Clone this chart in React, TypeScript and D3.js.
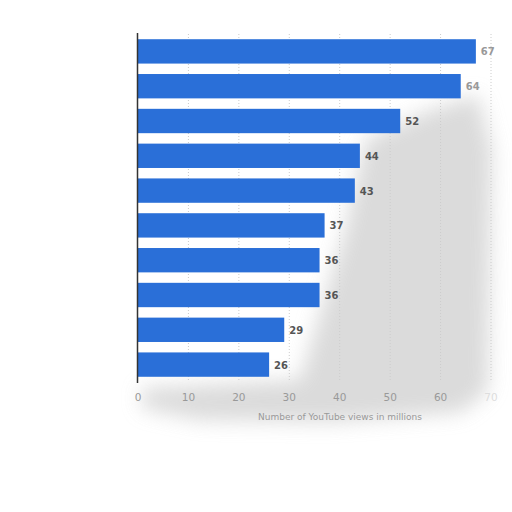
import React from "react";
import * as d3 from "d3";

const categories = ["A", "B", "C", "D", "E", "F", "G", "H", "I", "J"];
const values = [67, 64, 52, 44, 43, 37, 36, 36, 29, 26];
const ticks = [0, 10, 20, 30, 40, 50, 60, 70];
const axisTitle = "Number of YouTube views in millions";

export default function App() {
  const W = 512, H = 512;
  const x = d3.scaleLinear().domain([0, 70]).range([138, 491]);
  const y = d3.scaleBand().domain(categories).range([34, 382]).paddingInner(0.3).paddingOuter(0.15);
  const blob = "M345,230 L365,140 L430,110 L478,95 L492,150 L488,390 L462,412 L330,422 L200,420 L142,408 L142,388 L300,380 Z";
  return (
    <svg width={W} height={H} style={{ position: "absolute", left: 0, top: 0, background: "#fff" }}>
      <defs>
        <filter id="bl" x="-20%" y="-20%" width="140%" height="140%">
          <feGaussianBlur stdDeviation="10" />
        </filter>
      </defs>
      <rect width={W} height={H} fill="#fff" />
      <path d={blob} fill="#cfcfcf" filter="url(#bl)" opacity={0.75} />
      {ticks.slice(1).map((t) => (
        <line key={t} x1={x(t)} x2={x(t)} y1={34} y2={382} stroke="#ccc" strokeDasharray="1,2" strokeWidth={1} />
      ))}
      {categories.map((c, i) => (
        <rect key={c} x={x(0)} y={y(c)} width={x(values[i]) - x(0)} height={y.bandwidth()} fill="#2a6fd8" />
      ))}
      {categories.map((c, i) => (
        <text key={c} x={x(values[i]) + 5} y={(y(c) as number) + y.bandwidth() / 2 + 4}
          fontFamily="DejaVu Sans, sans-serif" fontSize={10} fontWeight="bold"
          fill={i < 2 ? "#999" : "#555"}>{values[i]}</text>
      ))}
      <line x1={137.5} x2={137.5} y1={33} y2={383} stroke="#333" strokeWidth={1.5} />
      {ticks.map((t) => (
        <text key={t} x={x(t)} y={401} textAnchor="middle" fontFamily="DejaVu Sans, sans-serif"
          fontSize={10.5} fill={t === 70 ? "#ddd" : "#999"}>{t}</text>
      ))}
      <text x={340} y={420} textAnchor="middle" fontFamily="DejaVu Sans, sans-serif" fontSize={9} fill="#999">{axisTitle}</text>
    </svg>
  );
}
